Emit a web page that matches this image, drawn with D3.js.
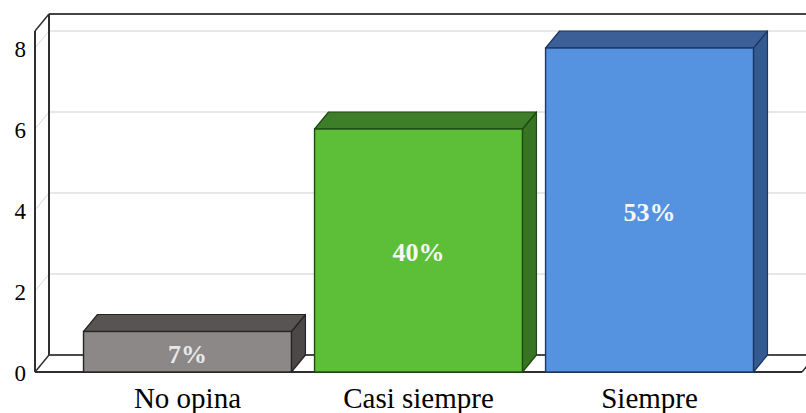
<!DOCTYPE html>
<html>
<head>
<meta charset="utf-8">
<script src="https://cdn.jsdelivr.net/npm/d3@7"></script>
<style>
  html, body { margin: 0; padding: 0; background: #ffffff; }
  svg { display: block; }
</style>
</head>
<body>
<svg id="chart" width="806" height="413"></svg>
<script>
// Survey answers: frequency counts and their share of the total
const categories = ["No opina", "Casi siempre", "Siempre"];
const counts = [1, 6, 8];
const percentLabels = ["7%", "40%", "53%"];
const yTicks = [0, 2, 4, 6, 8];

// Face colours per bar: front, top, side, outline
const frontColors = ["#8d8888", "#5dbf38", "#5593e0"];
const topColors = ["#585454", "#3f7e28", "#3c5f97"];
const sideColors = ["#4c4848", "#387523", "#345a90"];
const edgeColors = ["#262424", "#1f4a12", "#1a3766"];

const SERIF = "Liberation Serif, Times New Roman, Tinos, DejaVu Serif, Noto Serif, serif";
const W = 806, H = 413;
const depthX = 14, depthY = -17;        // oblique depth offset of the 3D box
const frontLeft = 35, frontRight = 802;  // front plane of the plot
const frontBottom = 372, frontTop = 31;

const svg = d3.select("#chart");

const x = d3.scaleBand()
  .domain(categories)
  .range([frontLeft, frontRight])
  .paddingInner(0.1)
  .paddingOuter(0.21);

const y = d3.scaleLinear()
  .domain([0, 8])
  .range([frontBottom, 48]);

const wall = svg.append("g");

// Gridlines: across the back wall plus the slanted stroke on the side wall
yTicks.filter(t => t > 0).forEach(t => {
  const yf = y(t);
  wall.append("line")
    .attr("x1", frontLeft + depthX).attr("x2", frontRight + depthX + 20)
    .attr("y1", yf + depthY).attr("y2", yf + depthY)
    .attr("stroke", "#d0d0d0").attr("stroke-width", 1.2);
  wall.append("line")
    .attr("x1", frontLeft).attr("y1", yf)
    .attr("x2", frontLeft + depthX).attr("y2", yf + depthY)
    .attr("stroke", "#d8d8d8").attr("stroke-width", 1);
});

const frame = "#2f2f2f";
// Back wall top and left edge
wall.append("line")
  .attr("x1", frontLeft + depthX).attr("x2", W + 20)
  .attr("y1", frontTop + depthY).attr("y2", frontTop + depthY)
  .attr("stroke", "#444").attr("stroke-width", 2);
wall.append("line")
  .attr("x1", frontLeft + depthX).attr("x2", frontLeft + depthX)
  .attr("y1", frontTop + depthY).attr("y2", frontBottom + depthY)
  .attr("stroke", frame).attr("stroke-width", 2);
// Side wall front edge and top slant
wall.append("line")
  .attr("x1", frontLeft).attr("x2", frontLeft)
  .attr("y1", frontTop).attr("y2", frontBottom)
  .attr("stroke", frame).attr("stroke-width", 2);
wall.append("line")
  .attr("x1", frontLeft).attr("y1", frontTop)
  .attr("x2", frontLeft + depthX).attr("y2", frontTop + depthY)
  .attr("stroke", frame).attr("stroke-width", 1.5);
// Floor: back edge, front edge and both slants
wall.append("line")
  .attr("x1", frontLeft + depthX).attr("x2", frontRight + depthX)
  .attr("y1", frontBottom + depthY).attr("y2", frontBottom + depthY)
  .attr("stroke", "#4a4a4a").attr("stroke-width", 1.8);
wall.append("line")
  .attr("x1", frontLeft).attr("x2", frontRight)
  .attr("y1", frontBottom).attr("y2", frontBottom)
  .attr("stroke", frame).attr("stroke-width", 2);
[frontLeft, frontRight].forEach(px => {
  wall.append("line")
    .attr("x1", px).attr("y1", frontBottom)
    .attr("x2", px + depthX).attr("y2", frontBottom + depthY)
    .attr("stroke", frame).attr("stroke-width", 1.5);
});

// 3D bars
const bars = svg.append("g").selectAll("g")
  .data(categories)
  .join("g");

bars.each(function (c, i) {
  const g = d3.select(this);
  const x0 = x(c), w = x.bandwidth();
  const yt = y(counts[i]), yb = y(0);
  const pts = a => a.map(p => p.join(",")).join(" ");

  g.append("polygon")
    .attr("points", pts([[x0 + w, yt], [x0 + w + depthX, yt + depthY],
                         [x0 + w + depthX, yb + depthY], [x0 + w, yb]]))
    .attr("fill", sideColors[i]).attr("stroke", edgeColors[i]).attr("stroke-width", 1.2)
    .attr("stroke-linejoin", "round");
  g.append("polygon")
    .attr("points", pts([[x0, yt], [x0 + depthX, yt + depthY],
                         [x0 + w + depthX, yt + depthY], [x0 + w, yt]]))
    .attr("fill", topColors[i]).attr("stroke", edgeColors[i]).attr("stroke-width", 1.2)
    .attr("stroke-linejoin", "round");
  g.append("rect")
    .attr("x", x0).attr("y", yt)
    .attr("width", w).attr("height", yb - yt)
    .attr("fill", frontColors[i]).attr("stroke", edgeColors[i]).attr("stroke-width", 1.4);

  g.append("text")
    .attr("x", x0 + w / 2)
    .attr("y", (yt + yb) / 2)
    .attr("dy", "0.42em")
    .attr("text-anchor", "middle")
    .attr("font-family", SERIF)
    .attr("font-weight", "bold")
    .attr("font-size", 26)
    .attr("fill", i === 0 ? "#e8e8e8" : "#f7f7f7")
    .text(percentLabels[i]);
});

// Value axis
const yAxis = svg.append("g")
  .attr("transform", `translate(${frontLeft},0)`)
  .call(d3.axisLeft(y).tickValues(yTicks).tickSize(0).tickPadding(9).tickFormat(d3.format("d")))
  .attr("font-family", SERIF)
  .attr("font-size", 23);
yAxis.select(".domain").remove();
yAxis.selectAll("text")
  .attr("dy", "0.38em")
  .attr("fill", "#000");

// Category axis
const xAxis = svg.append("g")
  .attr("transform", `translate(0,${frontBottom})`)
  .call(d3.axisBottom(x).tickSize(0).tickPadding(15))
  .attr("font-family", SERIF)
  .attr("font-size", 29);
xAxis.select(".domain").remove();
xAxis.selectAll("text")
  .attr("fill", "#000");
</script>
</body>
</html>
